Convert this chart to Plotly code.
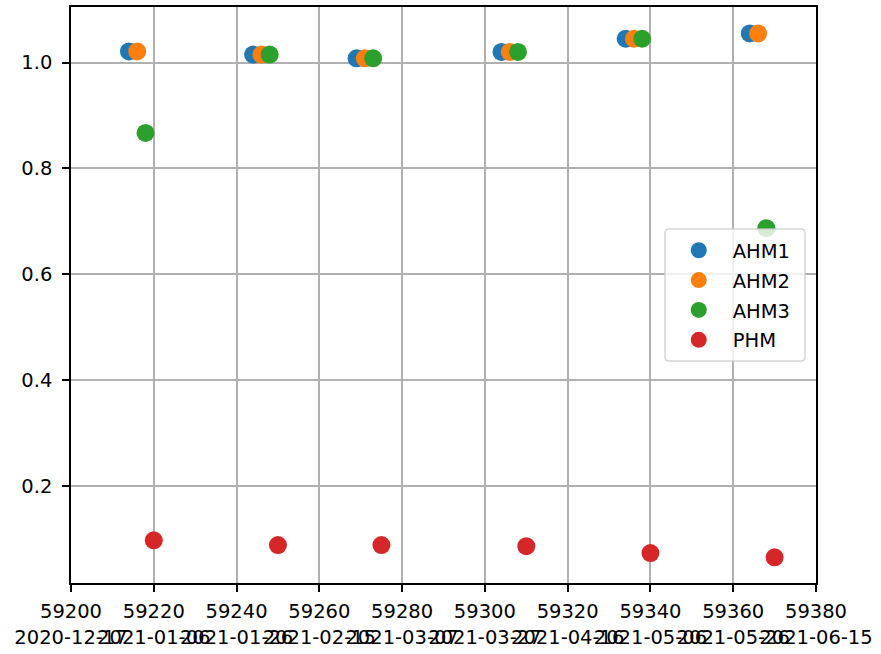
import plotly.graph_objects as go

# Data (MJD, values)
ahm1_mjd = [59214, 59244, 59269, 59304, 59334, 59364]
ahm1_val = [1.021, 1.015, 1.008, 1.020, 1.045, 1.055]
ahm2_mjd = [59216, 59246, 59271, 59306, 59336, 59366]
ahm2_val = [1.021, 1.015, 1.008, 1.020, 1.045, 1.055]
ahm3_mjd = [59218, 59248, 59273, 59308, 59338, 59368]
ahm3_val = [0.867, 1.015, 1.008, 1.020, 1.045, 0.687]
phm_mjd = [59220, 59250, 59275, 59310, 59340, 59370]
phm_val = [0.097, 0.088, 0.088, 0.086, 0.073, 0.065]

series_names = ["AHM1", "AHM2", "AHM3", "PHM"]
series_colors = ["#1f77b4", "#ff7f0e", "#2ca02c", "#d62728"]

tick_mjd = [59200, 59220, 59240, 59260, 59280, 59300, 59320, 59340, 59360, 59380]
tick_dates = ["2020-12-17", "2021-01-06", "2021-01-26", "2021-02-15", "2021-03-07",
              "2021-03-27", "2021-04-16", "2021-05-06", "2021-05-26", "2021-06-15"]
tick_text = [f"{m}<br>{d}" for m, d in zip(tick_mjd, tick_dates)]

FONT = "DejaVu Sans"
FS = 19.5

fig = go.Figure()
for name, color, xs, ys in zip(series_names, series_colors,
                               [ahm1_mjd, ahm2_mjd, ahm3_mjd, phm_mjd],
                               [ahm1_val, ahm2_val, ahm3_val, phm_val]):
    fig.add_trace(go.Scatter(x=xs, y=ys, mode="markers", name=name, legendgroup=name,
                             marker=dict(color=color, size=18, line=dict(width=0))))

axis_common = dict(
    showline=True, linecolor="black", linewidth=1.5, mirror=True,
    showgrid=True, gridcolor="#b0b0b0", gridwidth=1.5,
    ticks="outside", ticklen=7, tickwidth=1.5, tickcolor="black",
    zeroline=False,
    tickfont=dict(family=FONT, size=FS, color="black"),
)

fig.update_xaxes(range=[59200, 59380], tickmode="array", tickvals=tick_mjd,
                 ticktext=tick_text, tickangle=0, ticklabelstandoff=3, **axis_common)
fig.update_yaxes(range=[0.0164, 1.105], tickmode="linear", tick0=0, dtick=0.2,
                 tickformat=".1f", ticklabelstandoff=6, **axis_common)

# Legend frame (matplotlib-style rounded, semi-transparent box)
x0, x1 = 0.7973, 0.9852
yb, yt = 0.3855, 0.6145
rx, ry = 0.0054, 0.0069
frame_path = (f"M {x0+rx},{yt} L {x1-rx},{yt} Q {x1},{yt} {x1},{yt-ry} "
              f"L {x1},{yb+ry} Q {x1},{yb} {x1-rx},{yb} L {x0+rx},{yb} "
              f"Q {x0},{yb} {x0},{yb+ry} L {x0},{yt-ry} Q {x0},{yt} {x0+rx},{yt} Z")
fig.add_shape(type="path", path=frame_path, xref="paper", yref="paper",
              fillcolor="rgba(255,255,255,0.8)",
              line=dict(color="rgba(204,204,204,0.8)", width=1.5), layer="above")

fig.update_layout(
    width=881, height=654,
    margin=dict(l=71, r=65, t=5, b=68),
    plot_bgcolor="white", paper_bgcolor="white",
    font=dict(family=FONT, size=FS, color="black"),
    legend=dict(x=0.797, y=0.611, xanchor="left", yanchor="top",
                bgcolor="rgba(0,0,0,0)", borderwidth=0,
                itemwidth=58, tracegroupgap=1.5, traceorder="grouped",
                font=dict(family=FONT, size=FS)),
    showlegend=True,
)

fig.write_html("out.html", config={"displayModeBar": False},
               post_script="document.body.style.margin='0';")
